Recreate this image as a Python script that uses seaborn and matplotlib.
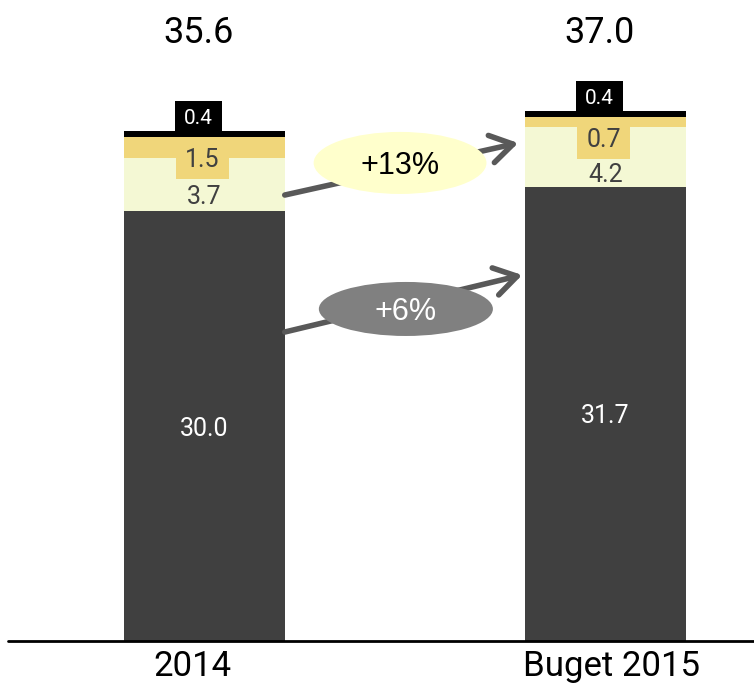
import matplotlib
matplotlib.use("Agg")
import matplotlib.pyplot as plt
from matplotlib.patches import Ellipse, Rectangle
import seaborn as sns
import numpy as np

# ---- data ----
categories = ["2014", "Buget 2015"]
base = [30.0, 31.7]
mid = [3.7, 4.2]
upper = [1.5, 0.7]
top = [0.4, 0.4]
totals = [35.6, 37.0]
growth_labels = ["+13%", "+6%"]

sns.set_theme(style="white")
plt.rcParams["font.family"] = ["Roboto", "DejaVu Sans"]

C_DARK = "#404040"
C_LIGHT = "#F4F8D4"
C_GOLD = "#F0D67A"
C_TOP = "#000000"

fig = plt.figure(figsize=(7.54, 6.86), dpi=100)
ax = fig.add_axes([0, 0, 1, 1])

base_a = np.array(base)
mid_a = np.array(mid)
up_a = np.array(upper)
top_a = np.array(top)
cum1 = base_a
cum2 = cum1 + mid_a
cum3 = cum2 + up_a
cum4 = cum3 + top_a

for cum, col in [(cum4, C_TOP), (cum3, C_GOLD), (cum2, C_LIGHT), (cum1, C_DARK)]:
    sns.barplot(x=categories, y=cum, color=col, width=0.4, saturation=1,
                edgecolor="none", linewidth=0, ax=ax)

ax.set_xlim(-0.51, 1.370)
ax.set_ylim(-3.14, 44.73)
ax.set_axis_off()

# baseline
ax.axhline(0, xmin=8 / 754, xmax=1, color="black", lw=2, zorder=5)

PXY = 1 / 14.33  # data units per pixel (y)

for i in range(2):
    # top (black) label box
    bw, bh = 0.117, 29.5 * PXY
    bx = i - 0.015
    ax.add_patch(Rectangle((bx - bw / 2, cum4[i]), bw, bh, fc="black", ec="none", zorder=4))
    ax.text(bx, cum4[i] + bh / 2, f"{top[i]:.1f}", color="white", ha="center",
            va="center_baseline", fontsize=15, zorder=6)
    # gold label box
    gw, gh = 0.132, 42 * PXY
    gx = i - 0.005
    ax.add_patch(Rectangle((gx - gw / 2, cum3[i] - gh), gw, gh, fc=C_GOLD, ec="none", zorder=4))
    ax.text(gx, cum3[i] - gh / 2, f"{upper[i]:.1f}", color=C_DARK, ha="center",
            va="center_baseline", fontsize=18, zorder=6)
    # light label
    ly = (cum1[i] + (cum3[i] - gh)) / 2
    ax.text(i, ly, f"{mid[i]:.1f}", color=C_DARK, ha="center", va="center_baseline",
            fontsize=18, zorder=6)
    # dark label
    ax.text(i, cum1[i] / 2, f"{base[i]:.1f}", color="white", ha="center",
            va="center_baseline", fontsize=18, zorder=6)
    # total
    ax.text(i - 0.015, 42.7, f"{totals[i]:.1f}", color="black", ha="center",
            va="center_baseline", fontsize=26, zorder=6)

# x labels
ax.text(-0.029, -1.55, categories[0], ha="center", va="center_baseline", fontsize=25, color="black")
ax.text(1.015, -1.55, categories[1], ha="center", va="center_baseline", fontsize=25, color="black")

# growth arrows
arrows = [((0.2, 31.12), (0.782, 34.75)), ((0.2, 21.56), (0.792, 25.54))]
for (start, end) in arrows:
    ax.annotate("", xy=end, xytext=start,
                arrowprops=dict(arrowstyle="->,head_length=0.8,head_width=0.5",
                                color="#595959", lw=4, mutation_scale=20,
                                shrinkA=0, shrinkB=0),
                zorder=3)

ells = [((0.4875, 33.36), 0.431, 4.33, "#FFFFCC", "black"),
        ((0.502, 23.17), 0.434, 3.77, "#808080", "white")]
for (c, w, h, fc, tc), lab in zip(ells, growth_labels):
    ax.add_patch(Ellipse(c, w, h, fc=fc, ec="none", zorder=7))
    ax.text(c[0], c[1], lab, ha="center", va="center_baseline", fontsize=22, color=tc,
            family=["Liberation Sans", "DejaVu Sans"], zorder=8)

fig.savefig("out.png", dpi=100)
